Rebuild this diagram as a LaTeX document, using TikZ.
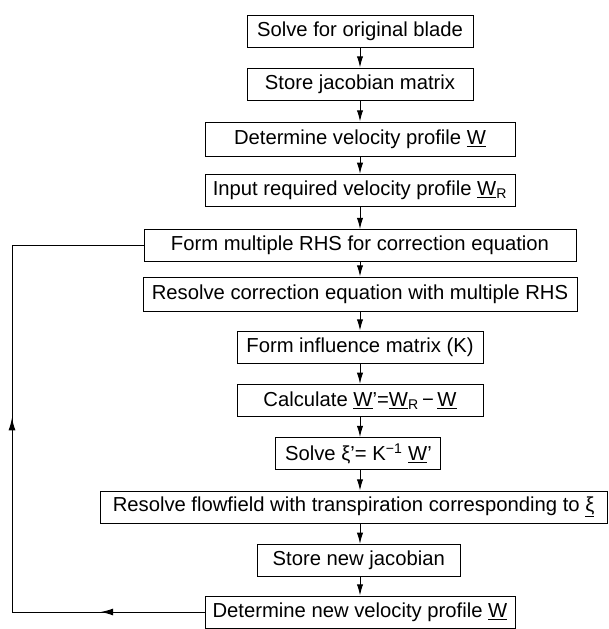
\documentclass[tikz,border=0pt]{standalone}
\usepackage{fontspec}
\setmainfont{Liberation Sans}
\usetikzlibrary{positioning,arrows.meta,decorations.markings}

\begin{document}
\begin{tikzpicture}[
  stepbox/.style={draw, line width=0.7pt, minimum height=0.8cm, inner sep=2pt, align=center, font=\fontsize{14.4}{16}\selectfont},
  flow/.style={line width=0.7pt, -{Latex[length=8pt,width=4.5pt]}},
  loopline/.style={line width=0.7pt},
  midarrow/.style={line width=0.7pt, postaction={decorate}, decoration={markings, mark=at position #1 with {\arrow{Latex[length=9pt,width=5pt]}}}}
]
\useasboundingbox (0,0) rectangle (15.225,-15.725);

% Initial solution
\node[stepbox, minimum width=5.65cm] (solve) at (9.0,-0.775) {Solve for original blade};
\node[stepbox, minimum width=5.65cm] (jacob) at (9.0,-2.1) {Store jacobian matrix};
\node[stepbox, minimum width=7.75cm, minimum height=0.85cm] (profile) at (9.0,-3.475) {Determine velocity profile \underline{W}};
\node[stepbox, minimum width=7.75cm] (required) at (9.0,-4.76) {Input required velocity profile \underline{W}\textsubscript{R}};

% Correction loop
\node[stepbox, minimum width=10.8cm] (rhs) at (9.0,-6.14) {Form multiple RHS for correction equation};
\node[stepbox, minimum width=10.85cm, minimum height=0.85cm] (resolve) at (9.0,-7.35) {Resolve correction equation with multiple RHS};
\node[stepbox, minimum width=6.15cm] (influence) at (9.0,-8.675) {Form influence matrix (K)};
\node[stepbox, minimum width=6.15cm] (calc) at (9.0,-10.01) {Calculate \underline{W}'=\underline{W}\textsubscript{R}\,−\,\underline{W}};
\node[stepbox, minimum width=4.125cm] (xi) at (8.96,-11.34) {Solve ξ'= K\textsuperscript{−1} \underline{W}'};
\node[stepbox, minimum width=12.675cm] (flowfield) at (8.84,-12.675) {Resolve flowfield with transpiration corresponding to \underline{ξ}};
\node[stepbox, minimum width=5.075cm] (newjacob) at (8.97,-14.01) {Store new jacobian};
\node[stepbox, minimum width=7.75cm] (newprofile) at (9.0,-15.3) {Determine new velocity profile \underline{W}};

% Arrows down the chart
\draw[flow] (solve) -- (jacob);
\draw[flow] (jacob) -- (profile);
\draw[flow] (profile) -- (required);
\draw[flow] (required) -- (rhs);
\draw[flow] (rhs) -- (resolve);
\draw[flow] (resolve) -- (influence);
\draw[flow] (influence) -- (calc);
\draw[flow] (calc) -- (calc |- xi.north);
\draw[flow] (calc |- xi.south) -- (calc |- flowfield.north);
\draw[flow] (calc |- flowfield.south) -- (calc |- newjacob.north);
\draw[flow] (calc |- newjacob.south) -- (newprofile);

% Return path
\coordinate (lx) at (0.3,0);
\coordinate (lbot) at (lx |- newprofile.west);
\coordinate (ltop) at (lx |- rhs.west);
\draw[midarrow=0.54] (newprofile.west) -- (lbot);
\draw[midarrow=0.53] (lbot) -- (ltop);
\draw[loopline] (ltop) -- (rhs.west);

\end{tikzpicture}
\end{document}
